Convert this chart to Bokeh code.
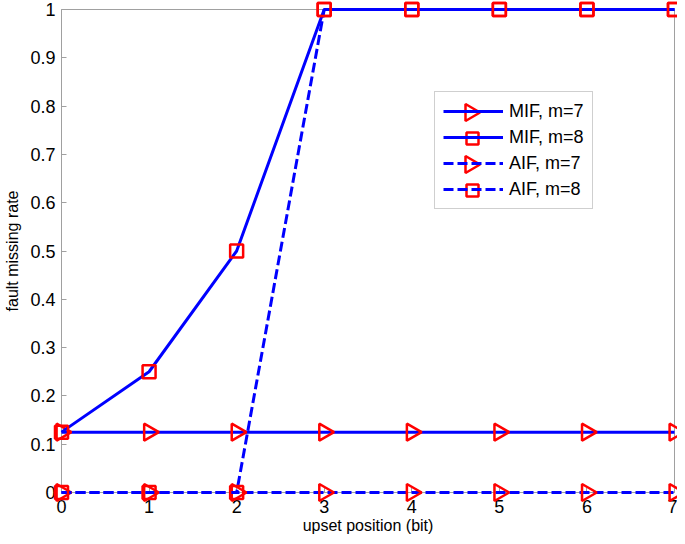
import math
from bokeh.plotting import figure
from bokeh.models import (FixedTicker, Range1d, Legend, LegendItem, ColumnDataSource,
                          PolyAnnotation)
from bokeh.embed import file_html
from bokeh.resources import INLINE

# data
positions = [0, 1, 2, 3, 4, 5, 6, 7]
mif_m7 = [0.125, 0.125, 0.125, 0.125, 0.125, 0.125, 0.125, 0.125]
mif_m8 = [0.125, 0.25, 0.5, 1, 1, 1, 1, 1]
aif_m7 = [0, 0, 0, 0, 0, 0, 0, 0]
aif_m8 = [0, 0, 0, 1, 1, 1, 1, 1]
y_ticks = [0, 0.1, 0.2, 0.3, 0.4, 0.5, 0.6, 0.7, 0.8, 0.9, 1]
y_tick_labels = ["0", "0.1", "0.2", "0.3", "0.4", "0.5", "0.6", "0.7", "0.8", "0.9", "1"]
x_ticks = [0, 1, 2, 3, 4, 5, 6, 7]
x_tick_labels = ["0", "1", "2", "3", "4", "5", "6", "7"]

FONT = "Liberation Sans"
BLUE = "#0000ff"
RED = "#ff0000"
GRAY = "#a0a0a0"
DASH = "10 4"

p = figure(width=677, height=536, output_backend="svg", toolbar_location=None,
           x_range=Range1d(0, 7), y_range=Range1d(0, 1),
           min_border_left=61, min_border_right=3, min_border_top=9, min_border_bottom=44,
           x_axis_label="upset position (bit)", y_axis_label="fault missing rate")
p.grid.visible = False
p.outline_line_color = GRAY
p.background_fill_color = "white"
p.border_fill_color = "white"

def style_axis(ax):
    ax.axis_line_color = GRAY
    ax.major_tick_line_color = GRAY
    ax.major_tick_in = 5
    ax.major_tick_out = 0
    ax.minor_tick_line_color = None
    ax.major_label_text_font = FONT
    ax.major_label_text_font_size = "18px"
    ax.major_label_text_color = "black"
    ax.axis_label_text_font = FONT
    ax.axis_label_text_font_size = "16px"
    ax.axis_label_text_font_style = "normal"
    ax.axis_label_text_color = "black"

p.xaxis.ticker = FixedTicker(ticks=x_ticks)
p.yaxis.ticker = FixedTicker(ticks=y_ticks)
p.xaxis.major_label_overrides = {t: l for t, l in zip(x_ticks, x_tick_labels)}
p.yaxis.major_label_overrides = {t: l for t, l in zip(y_ticks, y_tick_labels)}
for ax in p.xaxis:
    style_axis(ax)
    ax.major_label_standoff = 7
    ax.axis_label_standoff = 1
for ax in p.yaxis:
    style_axis(ax)
    ax.major_label_standoff = 6
    ax.axis_label_standoff = 6

series = [
    ("MIF, m=7", mif_m7, "solid", "tri"),
    ("MIF, m=8", mif_m8, "solid", "sq"),
    ("AIF, m=7", aif_m7, DASH, "tri"),
    ("AIF, m=8", aif_m8, DASH, "sq"),
]

# legend layout (screen pixels, from frame bottom-left)
LEG_X, LEG_Y = 373, 283
PAD, ROW_H, SPACING, GLYPH_W = 8, 22, 4, 60
N = len(series)

items = []
for i, (label, ys, dash, mk) in enumerate(series):
    src = ColumnDataSource(dict(x=positions, y=ys, ang=[-math.pi / 2] * len(positions)))
    ln = p.line("x", "y", source=src, line_color=BLUE, line_width=3, line_dash=dash,
                level="overlay")
    items.append(LegendItem(label=label, renderers=[ln]))
    # marker sample centred on the legend row's line
    cx = LEG_X + PAD + GLYPH_W / 2
    cy = LEG_Y + PAD + ROW_H / 2 + (N - 1 - i) * (ROW_H + SPACING)
    if mk == "tri":
        p.scatter("x", "y", source=src, marker="triangle", size=17, angle="ang",
                  line_color=RED, line_width=2.5, fill_color=None, level="overlay")
        sx = [cx - 7, cx + 7.5, cx - 7]
        sy = [cy + 8.5, cy, cy - 8.5]
    else:
        p.scatter("x", "y", source=src, marker="square", size=13,
                  line_color=RED, line_width=2.5, fill_color=None, level="overlay")
        sx = [cx - 6, cx + 6, cx + 6, cx - 6]
        sy = [cy + 6, cy + 6, cy - 6, cy - 6]
    p.add_layout(PolyAnnotation(xs=sx, ys=sy, xs_units="screen", ys_units="screen",
                                line_color=RED, line_width=2.5, line_alpha=1.0,
                                fill_color=RED, fill_alpha=0.0,
                                level="overlay", editable=False))

legend = Legend(items=items, location=(LEG_X, LEG_Y))
legend.label_text_font = FONT
legend.label_text_font_size = "18px"
legend.label_text_color = "black"
legend.glyph_width = GLYPH_W
legend.glyph_height = ROW_H
legend.label_height = ROW_H
legend.spacing = SPACING
legend.padding = PAD
legend.margin = 0
legend.label_standoff = 6
legend.border_line_color = GRAY
legend.border_line_width = 1
legend.background_fill_alpha = 0
p.add_layout(legend, "center")

open("out.html", "w").write(file_html(p, INLINE))
